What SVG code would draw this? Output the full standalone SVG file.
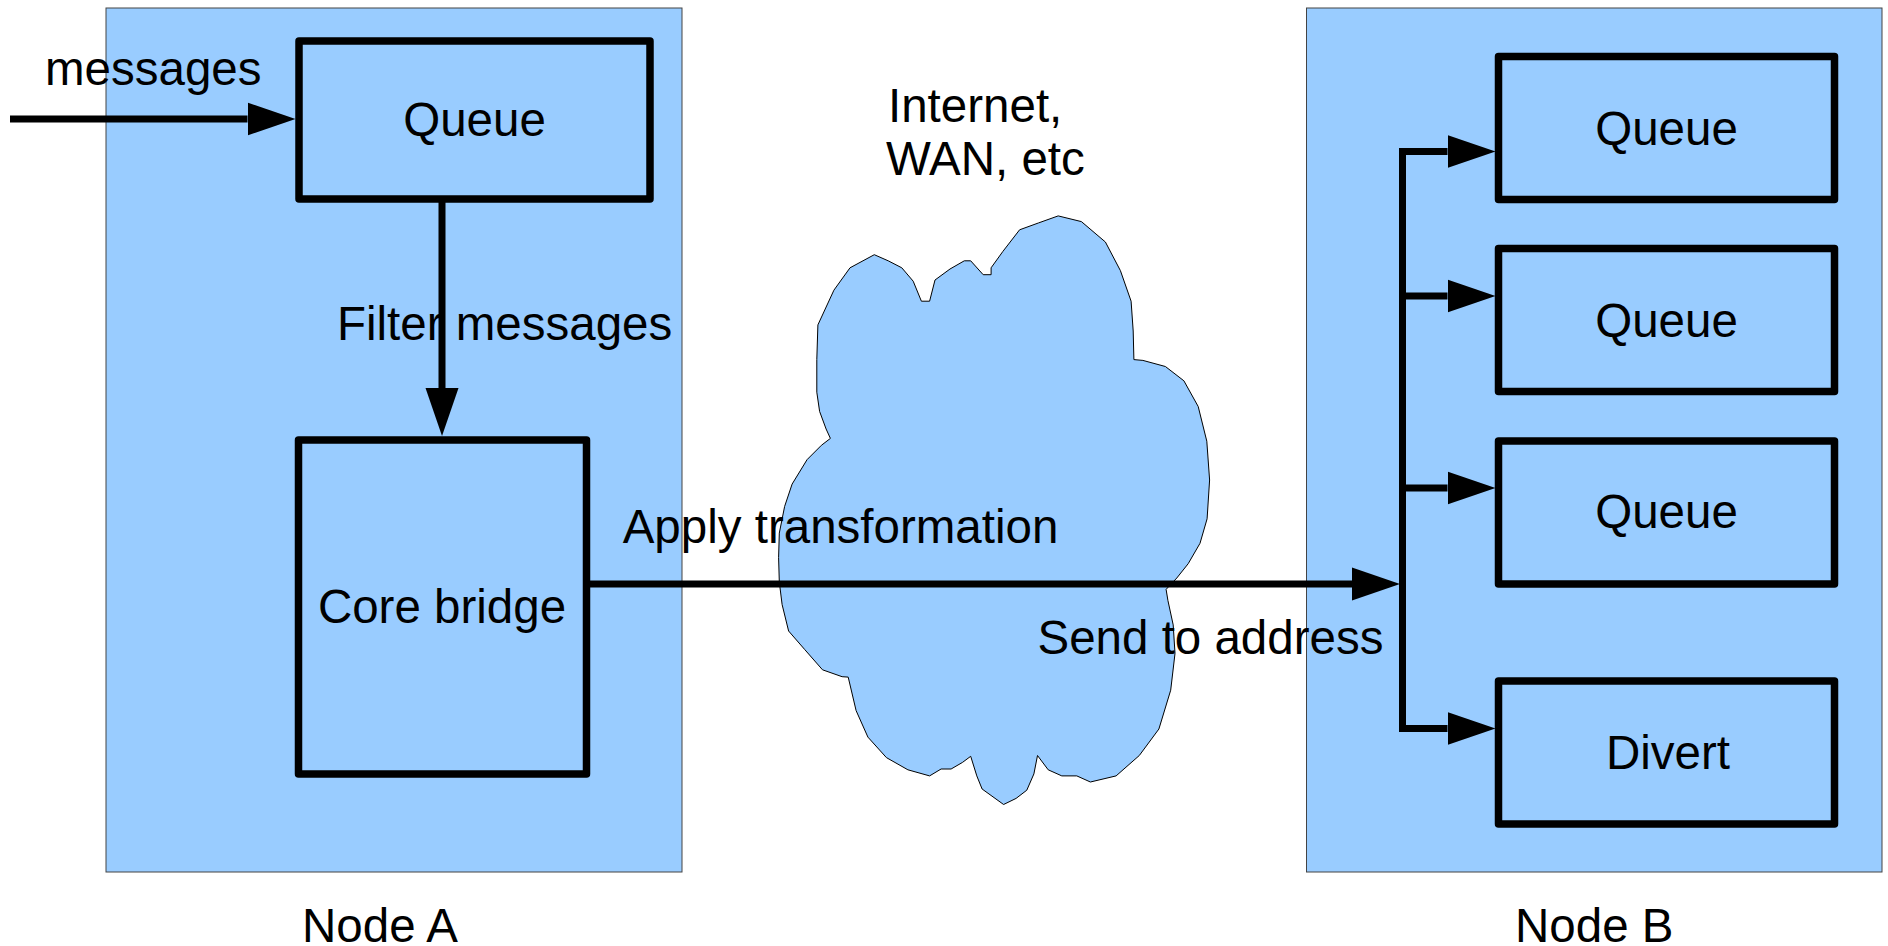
<svg xmlns="http://www.w3.org/2000/svg" width="1888" height="946" viewBox="0 0 1888 946">
<style>
.container{fill:#99ccff;stroke:#444;stroke-width:1}
.box{fill:#99ccff;stroke:#000;stroke-width:7.5;stroke-linejoin:round}
.cloud{fill:#99ccff;stroke:#000;stroke-width:1}
.conn{fill:none;stroke:#000;stroke-width:7}
text{font-family:"Liberation Sans",Arial,sans-serif;font-size:47.5px;fill:#000}
.mid{text-anchor:middle}
</style>
<defs>
<marker id="ah" markerUnits="userSpaceOnUse" viewBox="0 0 48 34" markerWidth="48" markerHeight="34" refX="0" refY="17" orient="auto">
<path d="M0,0.5 L48,17 L0,33.5 z" fill="#000"/>
</marker>
</defs>
<rect width="1888" height="946" fill="#fff"/>
<g id="node-a">
<rect class="container" x="106" y="8" width="576" height="864"/>
<text x="302" y="942">Node A</text>
</g>
<g id="node-b">
<rect class="container" x="1306.5" y="8" width="575.5" height="864"/>
<text x="1515" y="942">Node B</text>
</g>
<g id="cloud">
<polygon class="cloud" points="1058.2,215.9 1081.4,221.6 1105.4,242 1120.4,270.6 1131.1,301.2 1133.2,331 1133.9,359.6 1142.9,360.4 1165.4,366.5 1183.9,380.8 1198.2,406.5 1206.8,441.2 1209.6,480 1207.1,518.8 1200,543.3 1188.2,563.7 1176.8,578 1166.1,589.4 1167.9,600.4 1173.2,624.9 1175,653.5 1170.7,690.2 1158.9,729 1139.3,755.5 1116.1,775.9 1090.4,782 1076.8,775.9 1061.8,775.9 1048.2,769.8 1037.5,755.5 1033.9,773.9 1026.8,790.2 1016.1,798.4 1003.6,804.5 982.1,789 976.8,775.9 970.7,756.3 962.5,762.4 951.1,769 941.1,769 929.6,775.9 907.9,769.8 886.4,757.6 867.9,737.1 856.1,710.6 848.2,677.1 842.1,676.7 822.5,669.8 804.6,649.4 788.6,631 782.1,604.5 779.3,582 778.6,557.6 779.3,533.1 784.6,506.5 792.1,484.1 807.1,459.6 821.4,445.3 830.4,438.4 826.1,429 819.6,411.4 816.8,392.2 816.8,359.6 817.9,324.9 833.9,290.2 850,267.8 874.3,254.7 888.2,260.8 901.8,267.8 913.2,281.2 921.4,301.2 929.6,301.2 935,280 950,269 964.3,260.8 970.7,260.8 983.2,274.7 991.1,274.7 991.1,267.8 1002.9,251.4 1019.6,229.8 1038.6,222.9"/>
<text x="888" y="122">Internet,</text>
<text x="886" y="175">WAN, etc</text>
</g>
<g id="queue-a">
<rect class="box" x="299" y="41" width="351" height="158"/>
<text class="mid" x="474.5" y="136">Queue</text>
</g>
<g id="core-bridge">
<rect class="box" x="298.5" y="440" width="288" height="334"/>
<text class="mid" x="442" y="623">Core bridge</text>
</g>
<g id="queue-b1">
<rect class="box" x="1498.5" y="56.5" width="336" height="143"/>
<text class="mid" x="1666.5" y="145">Queue</text>
</g>
<g id="queue-b2">
<rect class="box" x="1498.5" y="248.5" width="336" height="143"/>
<text class="mid" x="1666.5" y="337">Queue</text>
</g>
<g id="queue-b3">
<rect class="box" x="1498.5" y="441" width="336" height="143"/>
<text class="mid" x="1666.5" y="528">Queue</text>
</g>
<g id="divert">
<rect class="box" x="1498.5" y="681" width="336" height="143"/>
<text class="mid" x="1668" y="769">Divert</text>
</g>
<g id="connectors">
<path class="conn" d="M10,119 H247.5" marker-end="url(#ah)"/>
<path class="conn" d="M442,199 V388" marker-end="url(#ah)"/>
<path class="conn" d="M590,584 H1352" marker-end="url(#ah)"/>
<path class="conn" d="M1402.5,151.5 V728.5"/>
<path class="conn" d="M1399,151.5 H1447.5" marker-end="url(#ah)"/>
<path class="conn" d="M1399,296 H1447.5" marker-end="url(#ah)"/>
<path class="conn" d="M1399,488 H1447.5" marker-end="url(#ah)"/>
<path class="conn" d="M1399,728.5 H1447.5" marker-end="url(#ah)"/>
<text x="45" y="85">messages</text>
<text x="337" y="340">Filter messages</text>
<text x="622.7" y="543">Apply transformation</text>
<text x="1037.5" y="654">Send to address</text>
</g>
</svg>
